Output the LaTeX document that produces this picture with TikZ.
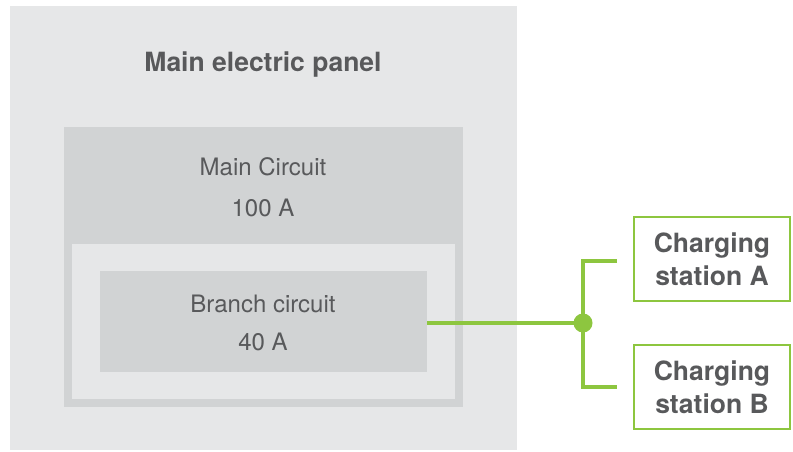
\documentclass[tikz,border=0pt]{standalone}
\usepackage{fontspec}
\setmainfont{TeX Gyre Heros}
\definecolor{panelgray}{HTML}{E6E7E8}
\definecolor{boxgray}{HTML}{D1D3D4}
\definecolor{txtgray}{HTML}{58595B}
\definecolor{evgreen}{HTML}{8DC63F}
\tikzset{
  area/.style={anchor=north west, inner sep=0pt, outer sep=0pt},
  lbl/.style={anchor=base, inner sep=0pt, text=txtgray, font=\fontsize{24}{28}\selectfont},
  title/.style={anchor=base, inner sep=0pt, text=txtgray, font=\fontsize{26.5}{30}\selectfont\bfseries},
  station/.style={draw=evgreen, line width=2.5pt, fill=white, minimum width=156pt, minimum height=84pt,
    align=center, text=txtgray, inner sep=0pt, font=\fontsize{26.5}{33}\selectfont\bfseries},
  wire/.style={draw=evgreen, line width=4.5pt},
}
\begin{document}
\begin{tikzpicture}[x=1pt,y=-1pt]
\useasboundingbox (0,0) rectangle (793,452);
% panel
\node[area, fill=panelgray, minimum width=507pt, minimum height=444pt] (panel) at (10,6) {};
\node[title] (paneltitle) at (263,71) {Main electric panel};
% main circuit
\node[area, fill=boxgray, minimum width=399pt, minimum height=280pt] (maincirc) at (64,127) {};
\node[area, fill=panelgray, minimum width=383pt, minimum height=155pt] (inner) at (72,244) {};
\node[lbl] (mainlbl) at (263,175) {Main Circuit};
\node[lbl] (mainamp) at (263,216) {100 A};
% branch circuit
\node[area, fill=boxgray, minimum width=327pt, minimum height=101pt] (branch) at (100,271) {};
\node[lbl] (branchlbl) at (263,312) {Branch circuit};
\node[lbl] (branchamp) at (263,350) {40 A};
% stations
\node[station] (staA) at (712,259) {Charging\\station A};
\node[station] (staB) at (712,387) {Charging\\station B};
% wiring
\coordinate (junc) at (583,323);
\coordinate (endA) at (617,261);
\coordinate (endB) at (617,387);
\draw[wire] (branch.east |- junc) -- (junc);
\draw[wire] (endA) -| (junc) |- (endB);
\fill[evgreen] (junc) circle (9.5pt);
\node[inner sep=0pt, minimum size=0pt] (dot) at (junc) {};
\end{tikzpicture}
\end{document}
